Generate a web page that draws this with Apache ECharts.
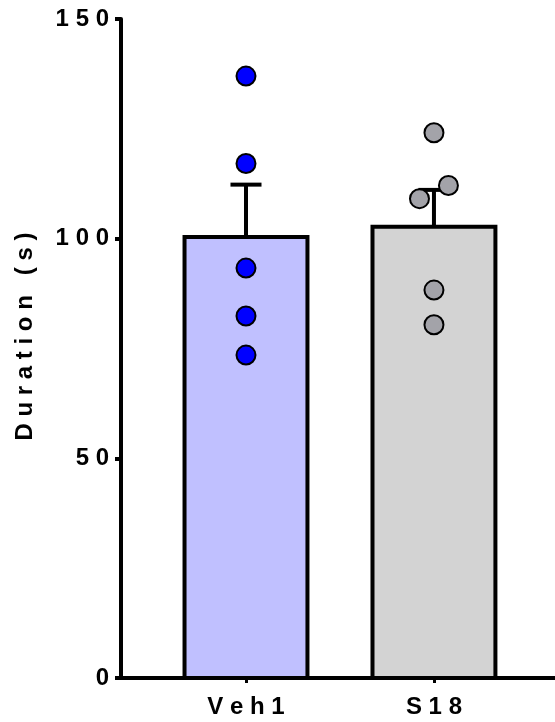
<!DOCTYPE html>
<html><head><meta charset="utf-8">
<script src="https://cdn.jsdelivr.net/npm/echarts@6/dist/echarts.min.js"></script>
<style>html,body{margin:0;padding:0;background:#fff}#c{width:555px;height:722px}</style>
</head><body><div id="c"></div>
<script>
// ---- data ----
const categories = ['Veh1', 'S18'];
const means = [100.4, 102.7];
const sems = [11.9, 8.4];
const veh1Points = [137.0, 117.1, 93.3, 82.4, 73.5];
const s18Points = [124.1, 112.1, 109.1, 88.3, 80.4];
const yTicks = [0, 50, 100, 150];
const yTitle = 'Duration (s)';

// ---- style ----
const FONT = '"Liberation Sans", Arial, sans-serif';
const barFills = ['#c0c0ff', '#d3d3d3'];
const dotFills = ['#0000ff', '#a3a3a9'];
const spaced = s => String(s).split('').join(' ');

// simple beeswarm: overlapping points are spread symmetrically
function swarm(vals, center, thr, step) {
  const idx = vals.map((v, i) => i).sort((a, b) => vals[a] - vals[b]);
  const xs = new Array(vals.length).fill(center);
  let cluster = [idx[0]];
  const flush = () => {
    const n = cluster.length;
    cluster.forEach((k, j) => { xs[k] = center + (j - (n - 1) / 2) * step; });
  };
  for (let j = 1; j < idx.length; j++) {
    if (vals[idx[j]] - vals[idx[j - 1]] < thr) cluster.push(idx[j]);
    else { flush(); cluster = [idx[j]]; }
  }
  flush();
  return xs.map((x, i) => [x, vals[i]]);
}

const groups = [veh1Points, s18Points];
const barData = categories.map((c, i) => [i + 1, means[i], sems[i]]);

const chart = echarts.init(document.getElementById('c'), null, {renderer: 'canvas'});
const option = {
  animation: false,
  backgroundColor: '#fff',
  grid: {left: 121, right: 0, top: 19, bottom: 44, containLabel: false, outerBoundsMode: 'none'},
  xAxis: {
    type: 'value', min: 0.335, max: 2.644,
    splitLine: {show: false},
    axisLine: {show: true, lineStyle: {color: '#000', width: 4}},
    axisTick: {show: true, customValues: [1, 2], length: 5, lineStyle: {color: '#000', width: 3}},
    axisLabel: {
      customValues: [1, 2], margin: 17,
      formatter: v => spaced(categories[Math.round(v) - 1] || ''),
      color: '#000', fontSize: 24, fontWeight: 'bold', fontFamily: FONT
    }
  },
  yAxis: {
    type: 'value', min: yTicks[0], max: yTicks[yTicks.length - 1], interval: yTicks[1] - yTicks[0],
    splitLine: {show: false},
    axisLine: {show: true, lineStyle: {color: '#000', width: 4}},
    axisTick: {show: true, length: 6, lineStyle: {color: '#000', width: 4}},
    axisLabel: {margin: 12, formatter: v => spaced(v), color: '#000', fontSize: 24, fontWeight: 'bold', fontFamily: FONT},
    name: spaced(yTitle), nameLocation: 'middle', nameGap: 84,
    nameTextStyle: {color: '#000', fontSize: 24, fontWeight: 'bold', fontFamily: FONT, padding: [0, 0, 0, 24]}
  },
  series: [
    {
      type: 'custom', z: 2,
      data: barData,
      renderItem: (params, api) => {
        const x = api.value(0), m = api.value(1), s = api.value(2);
        const i = params.dataIndex;
        const hw = 0.327;
        const tl = api.coord([x - hw, m]);
        const br = api.coord([x + hw, 0]);
        const top = api.coord([x, m]);
        const eb = api.coord([x, m + s]);
        const capL = api.coord([x - 0.0825, m + s]);
        const capR = api.coord([x + 0.0825, m + s]);
        return {
          type: 'group',
          children: [
            {type: 'rect', shape: {x: tl[0], y: tl[1], width: br[0] - tl[0], height: br[1] - tl[1]},
             style: {fill: barFills[i], stroke: '#000', lineWidth: 4}},
            {type: 'line', shape: {x1: top[0], y1: top[1], x2: eb[0], y2: eb[1]},
             style: {stroke: '#000', lineWidth: 4}},
            {type: 'line', shape: {x1: capL[0], y1: capL[1], x2: capR[0], y2: capR[1]},
             style: {stroke: '#000', lineWidth: 4}}
          ]
        };
      }
    },
    ...groups.map((g, i) => ({
      type: 'scatter', z: 5,
      data: swarm(g, i + 1, 4.6, 0.154),
      symbol: 'circle', symbolSize: 19,
      itemStyle: {color: dotFills[i], borderColor: '#000', borderWidth: 2, opacity: 1}
    }))
  ]
};
chart.setOption(option);
</script>
</body></html>
